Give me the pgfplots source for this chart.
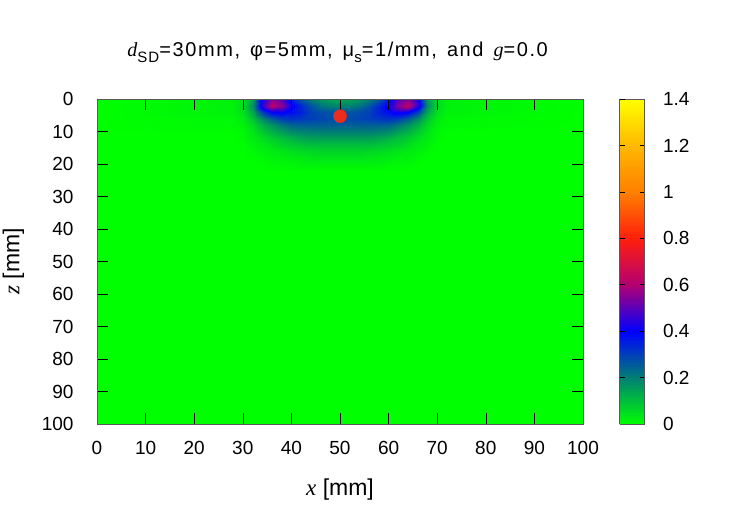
\documentclass[border=0pt]{standalone}
\usepackage{pgfplots}
\pgfplotsset{compat=1.18}
\usepackage{fontspec}
\setmainfont{Liberation Sans}
\newfontfamily\serif{Liberation Serif}
\newcommand\fs{\fontsize{19bp}{22bp}\selectfont}
\newcommand\ft{\fontsize{20bp}{23bp}\selectfont}
\newcommand\fl{\fontsize{23bp}{26bp}\selectfont}
\newcommand\tsp{\hspace{0.5em}}
\newcommand\sub[1]{\raisebox{-0.28em}{\fontsize{15bp}{17bp}\selectfont #1}}
\definecolor{dotred}{RGB}{235,45,30}
\definecolor{framegray}{RGB}{90,90,90}

\begin{document}
\begin{tikzpicture}
\useasboundingbox (-97bp,-99bp) rectangle (650bp,424bp);
\begin{axis}[
    at={(0,0)}, anchor=south west,
    scale only axis, width=486bp, height=325bp,
    xmin=0, xmax=100, ymin=0, ymax=100, y dir=reverse,
    xtick={0,10,...,100}, ytick={0,10,...,100},
    tick align=inside, major tick length=11bp,
    tick style={black, line width=0.6pt},
    axis line style={framegray, line width=0.8pt},
    ticklabel style={font=\fs},
    /pgf/number format/assume math mode=true,
    xticklabel style={yshift=-14bp},
    yticklabel style={xshift=-20bp},
    title={\ft\addfontfeature{LetterSpace=8}{\serif\itshape d}\sub{SD}=30mm,\tsp φ=5mm,\tsp μ\sub{s}=1/mm,\tsp and\tsp {\serif\itshape g}=0.0},
    title style={at={(axis description cs:0.495,1.126)}, anchor=center},
    xlabel={\fl{\serif\itshape x} [mm]},
    xlabel style={at={(axis description cs:0.5,-0.203)}, anchor=center},
    ylabel={\fl{\serif\itshape z} [mm]},
    ylabel style={at={(axis description cs:-0.172,0.5)}, anchor=center},
    colormap={gp}{rgb=(0,1,0) rgb=(0,0.5,0.45) rgb=(0,0,1) rgb=(0.7,0,0.45)
                  rgb=(1,0.12,0.05) rgb=(1,0.5,0) rgb=(1,0.72,0) rgb=(1,1,0)},
    point meta min=0, point meta max=1.4,
    colorbar sampled,
    colorbar style={at={(parent axis.north east)}, anchor=north west, xshift=28bp,
        width=25bp, samples=141, ytick={0,0.2,0.4,0.6,0.8,1,1.2,1.4},
        tick align=inside, major tick length=5bp,
        ytick style={black, line width=0.6pt},
        axis line style={framegray, line width=0.8pt},
        yticklabel style={font=\fs, xshift=15bp},
        /pgf/number format/assume math mode=true},
    axis on top,
]
\addplot[surf, shader=interp, mesh/cols=25, point meta=explicit] coordinates {
(0,0)[0] (28,0)[0.02] (30,0)[0.05] (32,0)[0.15] (34,0)[0.42] (36,0)[0.55] (38,0)[0.50] (40,0)[0.36] (42,0)[0.26] (44,0)[0.20] (46,0)[0.16] (48,0)[0.14] (50,0)[0.13] (52,0)[0.14] (54,0)[0.16] (56,0)[0.20] (58,0)[0.26] (60,0)[0.36] (62,0)[0.50] (64,0)[0.55] (66,0)[0.42] (68,0)[0.15] (70,0)[0.05] (72,0)[0.02] (100,0)[0]

(0,2)[0] (28,2)[0.02] (30,2)[0.06] (32,2)[0.18] (34,2)[0.45] (36,2)[0.62] (38,2)[0.55] (40,2)[0.42] (42,2)[0.34] (44,2)[0.27] (46,2)[0.22] (48,2)[0.20] (50,2)[0.20] (52,2)[0.20] (54,2)[0.22] (56,2)[0.27] (58,2)[0.34] (60,2)[0.42] (62,2)[0.55] (64,2)[0.62] (66,2)[0.45] (68,2)[0.18] (70,2)[0.06] (72,2)[0.02] (100,2)[0]

(0,4)[0] (28,4)[0.02] (30,4)[0.05] (32,4)[0.14] (34,4)[0.30] (36,4)[0.40] (38,4)[0.42] (40,4)[0.38] (42,4)[0.35] (44,4)[0.30] (46,4)[0.28] (48,4)[0.27] (50,4)[0.27] (52,4)[0.27] (54,4)[0.28] (56,4)[0.30] (58,4)[0.35] (60,4)[0.38] (62,4)[0.42] (64,4)[0.40] (66,4)[0.30] (68,4)[0.14] (70,4)[0.05] (72,4)[0.02] (100,4)[0]

(0,6)[0] (28,6)[0.01] (30,6)[0.03] (32,6)[0.09] (34,6)[0.18] (36,6)[0.25] (38,6)[0.30] (40,6)[0.32] (42,6)[0.31] (44,6)[0.30] (46,6)[0.29] (48,6)[0.28] (50,6)[0.28] (52,6)[0.28] (54,6)[0.29] (56,6)[0.30] (58,6)[0.31] (60,6)[0.32] (62,6)[0.30] (64,6)[0.25] (66,6)[0.18] (68,6)[0.09] (70,6)[0.03] (72,6)[0.01] (100,6)[0]

(0,8)[0] (28,8)[0.01] (30,8)[0.02] (32,8)[0.06] (34,8)[0.12] (36,8)[0.17] (38,8)[0.21] (40,8)[0.24] (42,8)[0.25] (44,8)[0.25] (46,8)[0.25] (48,8)[0.25] (50,8)[0.25] (52,8)[0.25] (54,8)[0.25] (56,8)[0.25] (58,8)[0.25] (60,8)[0.24] (62,8)[0.21] (64,8)[0.17] (66,8)[0.12] (68,8)[0.06] (70,8)[0.02] (72,8)[0.01] (100,8)[0]

(0,10)[0] (28,10)[0] (30,10)[0.01] (32,10)[0.04] (34,10)[0.08] (36,10)[0.12] (38,10)[0.15] (40,10)[0.18] (42,10)[0.19] (44,10)[0.20] (46,10)[0.20] (48,10)[0.20] (50,10)[0.20] (52,10)[0.20] (54,10)[0.20] (56,10)[0.20] (58,10)[0.19] (60,10)[0.18] (62,10)[0.15] (64,10)[0.12] (66,10)[0.08] (68,10)[0.04] (70,10)[0.01] (72,10)[0] (100,10)[0]

(0,12)[0] (28,12)[0] (30,12)[0.01] (32,12)[0.03] (34,12)[0.05] (36,12)[0.08] (38,12)[0.10] (40,12)[0.12] (42,12)[0.14] (44,12)[0.15] (46,12)[0.15] (48,12)[0.15] (50,12)[0.15] (52,12)[0.15] (54,12)[0.15] (56,12)[0.15] (58,12)[0.14] (60,12)[0.12] (62,12)[0.10] (64,12)[0.08] (66,12)[0.05] (68,12)[0.03] (70,12)[0.01] (72,12)[0] (100,12)[0]

(0,14)[0] (28,14)[0] (30,14)[0] (32,14)[0.02] (34,14)[0.03] (36,14)[0.05] (38,14)[0.07] (40,14)[0.08] (42,14)[0.09] (44,14)[0.10] (46,14)[0.10] (48,14)[0.10] (50,14)[0.10] (52,14)[0.10] (54,14)[0.10] (56,14)[0.10] (58,14)[0.09] (60,14)[0.08] (62,14)[0.07] (64,14)[0.05] (66,14)[0.03] (68,14)[0.02] (70,14)[0] (72,14)[0] (100,14)[0]

(0,16)[0] (28,16)[0] (30,16)[0] (32,16)[0.01] (34,16)[0.02] (36,16)[0.03] (38,16)[0.04] (40,16)[0.05] (42,16)[0.06] (44,16)[0.06] (46,16)[0.07] (48,16)[0.07] (50,16)[0.07] (52,16)[0.07] (54,16)[0.07] (56,16)[0.06] (58,16)[0.06] (60,16)[0.05] (62,16)[0.04] (64,16)[0.03] (66,16)[0.02] (68,16)[0.01] (70,16)[0] (72,16)[0] (100,16)[0]

(0,18)[0] (28,18)[0] (30,18)[0] (32,18)[0] (34,18)[0.01] (36,18)[0.02] (38,18)[0.02] (40,18)[0.03] (42,18)[0.03] (44,18)[0.04] (46,18)[0.04] (48,18)[0.04] (50,18)[0.04] (52,18)[0.04] (54,18)[0.04] (56,18)[0.04] (58,18)[0.03] (60,18)[0.03] (62,18)[0.02] (64,18)[0.02] (66,18)[0.01] (68,18)[0] (70,18)[0] (72,18)[0] (100,18)[0]

(0,20)[0] (28,20)[0] (30,20)[0] (32,20)[0] (34,20)[0] (36,20)[0.01] (38,20)[0.01] (40,20)[0.01] (42,20)[0.02] (44,20)[0.02] (46,20)[0.02] (48,20)[0.02] (50,20)[0.02] (52,20)[0.02] (54,20)[0.02] (56,20)[0.02] (58,20)[0.02] (60,20)[0.01] (62,20)[0.01] (64,20)[0.01] (66,20)[0] (68,20)[0] (70,20)[0] (72,20)[0] (100,20)[0]

(0,22)[0] (28,22)[0] (30,22)[0] (32,22)[0] (34,22)[0] (36,22)[0] (38,22)[0] (40,22)[0] (42,22)[0] (44,22)[0] (46,22)[0] (48,22)[0] (50,22)[0] (52,22)[0] (54,22)[0] (56,22)[0] (58,22)[0] (60,22)[0] (62,22)[0] (64,22)[0] (66,22)[0] (68,22)[0] (70,22)[0] (72,22)[0] (100,22)[0]

(0,100)[0] (28,100)[0] (30,100)[0] (32,100)[0] (34,100)[0] (36,100)[0] (38,100)[0] (40,100)[0] (42,100)[0] (44,100)[0] (46,100)[0] (48,100)[0] (50,100)[0] (52,100)[0] (54,100)[0] (56,100)[0] (58,100)[0] (60,100)[0] (62,100)[0] (64,100)[0] (66,100)[0] (68,100)[0] (70,100)[0] (72,100)[0] (100,100)[0]
};
\addplot[only marks, mark=*, mark size=6.5bp, color=dotred, point meta=none] coordinates {(50,5.3)};
\end{axis}
\end{tikzpicture}
\end{document}
